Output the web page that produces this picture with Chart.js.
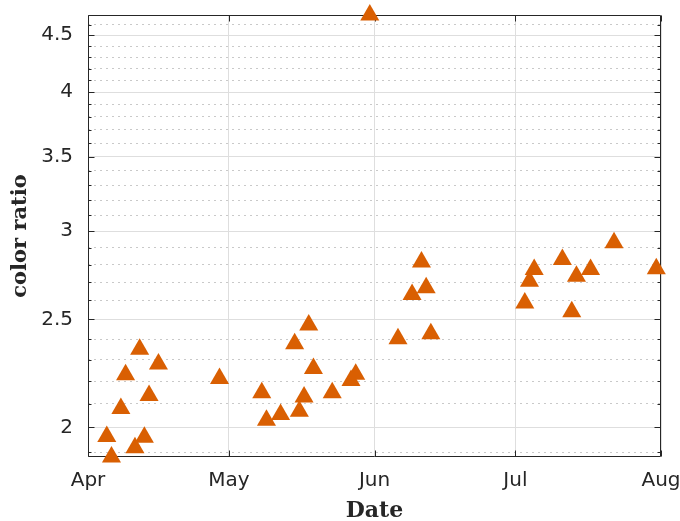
<!DOCTYPE html>
<html>
<head>
<meta charset="utf-8">
<script src="https://cdn.jsdelivr.net/npm/chart.js@4/dist/chart.umd.min.js"></script>
<style>
    html, body { margin: 0; padding: 0; background: #fff; }
    #wrap { width: 680px; height: 521px; }
</style>
</head>
<body>
<div id="wrap"><canvas id="ratio-chart" width="680" height="521"></canvas></div>
<script>
// observation dates and measured colour ratio
const dates = [
    '2021-04-05', '2021-04-06', '2021-04-08', '2021-04-09', '2021-04-11', '2021-04-12',
    '2021-04-13', '2021-04-14', '2021-04-16', '2021-04-29', '2021-05-08', '2021-05-09',
    '2021-05-12', '2021-05-15', '2021-05-16', '2021-05-17', '2021-05-18', '2021-05-19',
    '2021-05-23', '2021-05-27', '2021-05-28', '2021-05-31', '2021-06-06', '2021-06-09',
    '2021-06-11', '2021-06-12', '2021-06-13', '2021-07-03', '2021-07-04', '2021-07-05',
    '2021-07-11', '2021-07-13', '2021-07-14', '2021-07-17', '2021-07-22', '2021-07-31'
];
const ratios = [
    1.962, 1.881, 2.079, 2.230, 1.917, 2.350,
    1.959, 2.136, 2.280, 2.212, 2.148, 2.030,
    2.054, 2.378, 2.068, 2.130, 2.472, 2.259,
    2.148, 2.203, 2.232, 4.692, 2.402, 2.632,
    2.816, 2.669, 2.427, 2.587, 2.706, 2.772,
    2.830, 2.540, 2.734, 2.772, 2.929, 2.776
];

// axis ticks
const monthTicks = ['2021-04-01', '2021-05-01', '2021-06-01', '2021-07-01', '2021-08-01'];
const monthLabels = ['Apr', 'May', 'Jun', 'Jul', 'Aug'];
const yMajor = [2, 2.5, 3, 3.5, 4, 4.5];
const yMajorLabels = ['2', '2.5', '3', '3.5', '4', '4.5'];
const yMinor = [1.9, 2.1, 2.2, 2.3, 2.4, 2.6, 2.7, 2.8, 2.9, 3.1, 3.2, 3.3, 3.4,
                3.6, 3.7, 3.8, 3.9, 4.1, 4.2, 4.3, 4.4, 4.6];

const DAY = 86400000;
const start = Date.parse(monthTicks[0]);
function dayOf(d) {
    return (Date.parse(d) - start) / DAY;
}

const xTickValues = monthTicks.map(dayOf);
const yTickValues = yMajor.concat(yMinor).sort(function(a, b) { return a - b; });
const points = dates.map(function(d, i) { return { x: dayOf(d), y: ratios[i] }; });

const axisColor = '#262626';
const tickFont = { family: 'DejaVu Sans', size: 20 };

// axes box with inward tick marks, drawn under the markers
const frame = {
    id: 'frame',
    beforeDatasetsDraw(chart) {
        const { ctx, chartArea: a, scales: { x, y } } = chart;
        const L = Math.round(a.left) + 0.5;
        const R = Math.round(a.right) - 0.5;
        const T = Math.round(a.top) + 0.5;
        const B = Math.round(a.bottom) - 0.5;
        ctx.save();
        ctx.strokeStyle = axisColor;
        ctx.lineWidth = 1;
        ctx.beginPath();
        ctx.rect(L, T, R - L, B - T);
        yTickValues.forEach(function(v) {
            const py = Math.round(y.getPixelForValue(v)) + 0.5;
            const len = yMajor.includes(v) ? 6 : 3;
            ctx.moveTo(L, py); ctx.lineTo(L + len, py);
            ctx.moveTo(R, py); ctx.lineTo(R - len, py);
        });
        xTickValues.forEach(function(v) {
            const px = Math.round(x.getPixelForValue(v)) + 0.5;
            ctx.moveTo(px, B); ctx.lineTo(px, B - 6);
            ctx.moveTo(px, T); ctx.lineTo(px, T + 6);
        });
        ctx.stroke();
        ctx.restore();
    }
};

new Chart(document.getElementById('ratio-chart'), {
    type: 'scatter',
    data: {
        datasets: [{
            data: points,
            pointStyle: 'triangle',
            pointRadius: 11,
            pointHoverRadius: 11,
            backgroundColor: '#d95f02',
            borderColor: '#d95f02',
            borderWidth: 0,
            clip: false
        }]
    },
    options: {
        responsive: false,
        animation: false,
        layout: { padding: { top: 15, right: 19, left: 0, bottom: 0 } },
        plugins: {
            legend: { display: false },
            tooltip: { enabled: false }
        },
        scales: {
            x: {
                type: 'linear',
                min: xTickValues[0],
                max: xTickValues[xTickValues.length - 1],
                afterBuildTicks: function(scale) {
                    scale.ticks = xTickValues.map(function(v) { return { value: v }; });
                },
                afterFit: function(scale) {
                    scale.height = 64;
                    scale.paddingLeft = 0;
                    scale.paddingRight = 0;
                },
                ticks: {
                    autoSkip: false,
                    maxRotation: 0,
                    padding: 12,
                    color: axisColor,
                    font: tickFont,
                    callback: function(value) {
                        const i = xTickValues.indexOf(value);
                        return i >= 0 ? monthLabels[i] : '';
                    }
                },
                grid: { color: '#dedede', drawTicks: false },
                border: { display: false },
                title: {
                    display: true,
                    text: 'Date',
                    color: axisColor,
                    padding: { top: 0, bottom: -1 },
                    font: { family: 'DejaVu Serif', size: 22, weight: 'bold', lineHeight: 1 }
                }
            },
            y: {
                type: 'logarithmic',
                min: Math.min.apply(null, ratios),
                max: Math.max.apply(null, ratios),
                afterBuildTicks: function(scale) {
                    scale.ticks = yTickValues.map(function(v) { return { value: v }; });
                },
                afterFit: function(scale) {
                    scale.width = 88;
                    scale.paddingTop = 0;
                    scale.paddingBottom = 0;
                },
                ticks: {
                    autoSkip: false,
                    padding: 15,
                    color: axisColor,
                    font: tickFont,
                    callback: function(value) {
                        const i = yMajor.indexOf(value);
                        return i >= 0 ? yMajorLabels[i] : '';
                    }
                },
                grid: {
                    drawTicks: false,
                    color: function(c) {
                        return yMajor.includes(c.tick.value) ? '#dedede' : '#c9c9c9';
                    }
                },
                border: {
                    display: false,
                    dash: function(c) {
                        return yMajor.includes(c.tick.value) ? [] : [2, 4];
                    }
                },
                title: {
                    display: true,
                    text: 'color ratio',
                    color: axisColor,
                    padding: { top: 10, bottom: 0 },
                    font: { family: 'DejaVu Serif', size: 21, weight: 'bold', lineHeight: 1 }
                }
            }
        }
    },
    plugins: [frame]
});
</script>
</body>
</html>
